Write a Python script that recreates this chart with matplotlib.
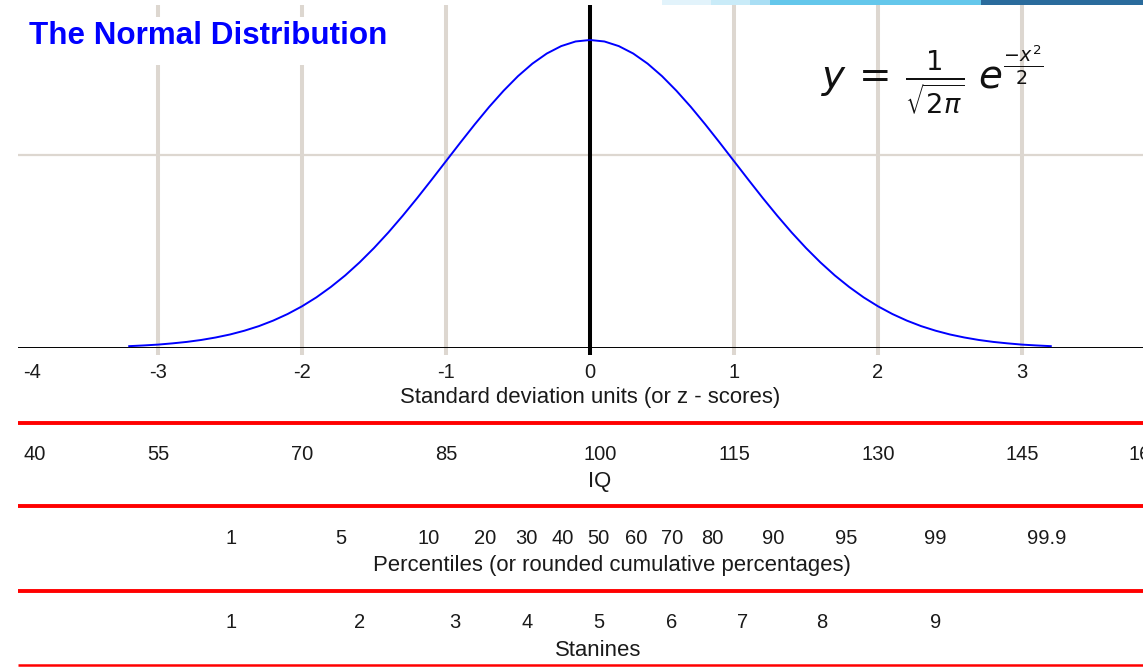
import numpy as np
import matplotlib
matplotlib.use("Agg")
import matplotlib.pyplot as plt
from matplotlib.patches import Rectangle

# ---------------- data ----------------
title = "The Normal Distribution"
curve_z = np.round(np.arange(-32, 33) / 10.0, 1)
curve_y = [0.0024, 0.0033, 0.0044, 0.0060, 0.0079, 0.0104, 0.0136, 0.0175, 0.0224, 0.0283,
           0.0355, 0.0440, 0.0540, 0.0656, 0.0790, 0.0940, 0.1109, 0.1295, 0.1497, 0.1714,
           0.1942, 0.2179, 0.2420, 0.2661, 0.2897, 0.3123, 0.3332, 0.3521, 0.3683, 0.3814,
           0.3910, 0.3970, 0.3989,
           0.3970, 0.3910, 0.3814, 0.3683, 0.3521, 0.3332, 0.3123, 0.2897, 0.2661, 0.2420,
           0.2179, 0.1942, 0.1714, 0.1497, 0.1295, 0.1109, 0.0940, 0.0790, 0.0656, 0.0540,
           0.0440, 0.0355, 0.0283, 0.0224, 0.0175, 0.0136, 0.0104, 0.0079, 0.0060, 0.0044,
           0.0033, 0.0024]
z_ticks = [-4, -3, -2, -1, 0, 1, 2, 3]
z_grid = [-3, -2, -1, 1, 2, 3]
iq_values = [40, 55, 70, 85, 100, 115, 130, 145, 160]
pct_labels = ["1", "5", "10", "20", "30", "40", "50", "60", "70", "80", "90", "95", "99", "99.9"]
pct_z = [-2.49, -1.73, -1.12, -0.73, -0.44, -0.19, 0.06, 0.32, 0.57, 0.85, 1.27, 1.78, 2.40, 3.17]
stanine_labels = ["1", "2", "3", "4", "5", "6", "7", "8", "9"]
stanine_z = [-2.49, -1.60, -0.94, -0.44, 0.06, 0.57, 1.06, 1.61, 2.40]
row_titles = ["Standard deviation units (or z - scores)", "IQ",
              "Percentiles (or rounded cumulative percentages)", "Stanines"]

# ---------------- layout ----------------
W, H = 1143, 667
fig = plt.figure(figsize=(W / 100, H / 100), dpi=100)
fig.patch.set_facecolor("white")

px_per_z = 144.0
z0_px = 590.0
xmin = (0 - z0_px) / px_per_z
xmax = (W - z0_px) / px_per_z
line_start = (18 - z0_px) / px_per_z

axis_px = 348.0
top_px = 5.0
ytop = 0.3989 * (axis_px - top_px) / 308.0

ax = fig.add_axes([0, (H - axis_px) / H, 1, (axis_px - top_px) / H])
ax.set_xlim(xmin, xmax)
ax.set_ylim(0, ytop)
ax.axis("off")

ypp = ytop / (axis_px - top_px)  # data units per pixel
grid_col = "#ddd7d0"
ax.vlines(z_grid, -7 * ypp, ytop, color=grid_col, lw=2.9, clip_on=False, zorder=1)
ax.hlines(0.25, line_start, xmax, color=grid_col, lw=1.6, zorder=1)
ax.hlines(0, line_start, xmax, color="black", lw=1.4, zorder=3)
ax.vlines(0, -7 * ypp, ytop, color="black", lw=2.9, clip_on=False, zorder=4)
ax.plot(curve_z, curve_y, color="#0000ff", lw=1.4, zorder=5)

# title with white background box
fig.patches.append(Rectangle((20 / W, 1 - 65 / H), 378 / W, 48 / H, transform=fig.transFigure,
                             facecolor="white", edgecolor="none", zorder=2))
fig.text(29 / W, 1 - 36 / H, title, color="#0000ff", fontsize=22.6, fontweight="bold",
         family="Liberation Sans", ha="left", va="center", zorder=6)

# formula
fig.text(932 / W, 1 - 80 / H, r"$y\,=\,\frac{1}{\sqrt{2\pi}}\;e^{\frac{-x^2}{2}}$",
         fontsize=28, ha="center", va="center", color="#111111")

# top banner decoration
banner = [(662, 711, "#e2f3fb"), (711, 750, "#c9ebf8"), (750, 770, "#a9def4"),
          (770, 981, "#64c7eb"), (981, W, "#2a6b9c")]
for x0, x1, c in banner:
    fig.patches.append(Rectangle((x0 / W, 1 - 5 / H), (x1 - x0) / W, 5 / H,
                                 transform=fig.transFigure, facecolor=c, edgecolor="none"))

# ---------------- bottom rows ----------------
ax2 = fig.add_axes([0, 0, 1, (H - axis_px) / H])
ax2.set_xlim(xmin, xmax)
ax2.set_ylim(H, axis_px)
ax2.axis("off")

fs_num = 14.5
fs_lab = 15.9
txtc = "#1a1a1a"
fam = "Liberation Sans"

left_lab = (23 - z0_px) / px_per_z
right_lab = (1128 - z0_px) / px_per_z

# z row
for z in z_ticks:
    if z < xmin + 0.3:
        ax2.text(left_lab, 372, f"{z}", ha="left", va="center", fontsize=fs_num, color=txtc, family=fam)
    else:
        ax2.text(z, 372, f"{z}", ha="center", va="center", fontsize=fs_num, color=txtc, family=fam)
ax2.text(0, 398, row_titles[0], ha="center", va="center", fontsize=fs_lab, color=txtc, family=fam)

# IQ row
for iq in iq_values:
    z = (iq - 100) / 15.0
    if z < xmin + 0.3:
        ax2.text(left_lab, 454, str(iq), ha="left", va="center", fontsize=fs_num, color=txtc, family=fam)
    elif z > xmax - 0.2:
        ax2.text(right_lab, 454, str(iq), ha="left", va="center", fontsize=fs_num, color=txtc,
                 family=fam, clip_on=True)
    else:
        ax2.text(z + (0.07 if iq == 100 else 0), 454, str(iq), ha="center", va="center",
                 fontsize=fs_num, color=txtc, family=fam)
ax2.text(0.07, 481, row_titles[1], ha="center", va="center", fontsize=fs_lab, color=txtc, family=fam)

# percentile row
for lab, z in zip(pct_labels, pct_z):
    ax2.text(z, 538, lab, ha="center", va="center", fontsize=fs_num, color=txtc, family=fam)
ax2.text(0.15, 566, row_titles[2], ha="center", va="center", fontsize=fs_lab, color=txtc, family=fam)

# stanine row
for lab, z in zip(stanine_labels, stanine_z):
    ax2.text(z, 622, lab, ha="center", va="center", fontsize=fs_num, color=txtc, family=fam)
ax2.text(0.06, 650, row_titles[3], ha="center", va="center", fontsize=fs_lab, color=txtc, family=fam)

# red separators
ax2.hlines([423, 506, 591], line_start, xmax, color="#ff0000", lw=2.8)
ax2.hlines([665], line_start, xmax, color="#ff0000", lw=1.8)

fig.savefig("out.png", dpi=100, facecolor="white")
